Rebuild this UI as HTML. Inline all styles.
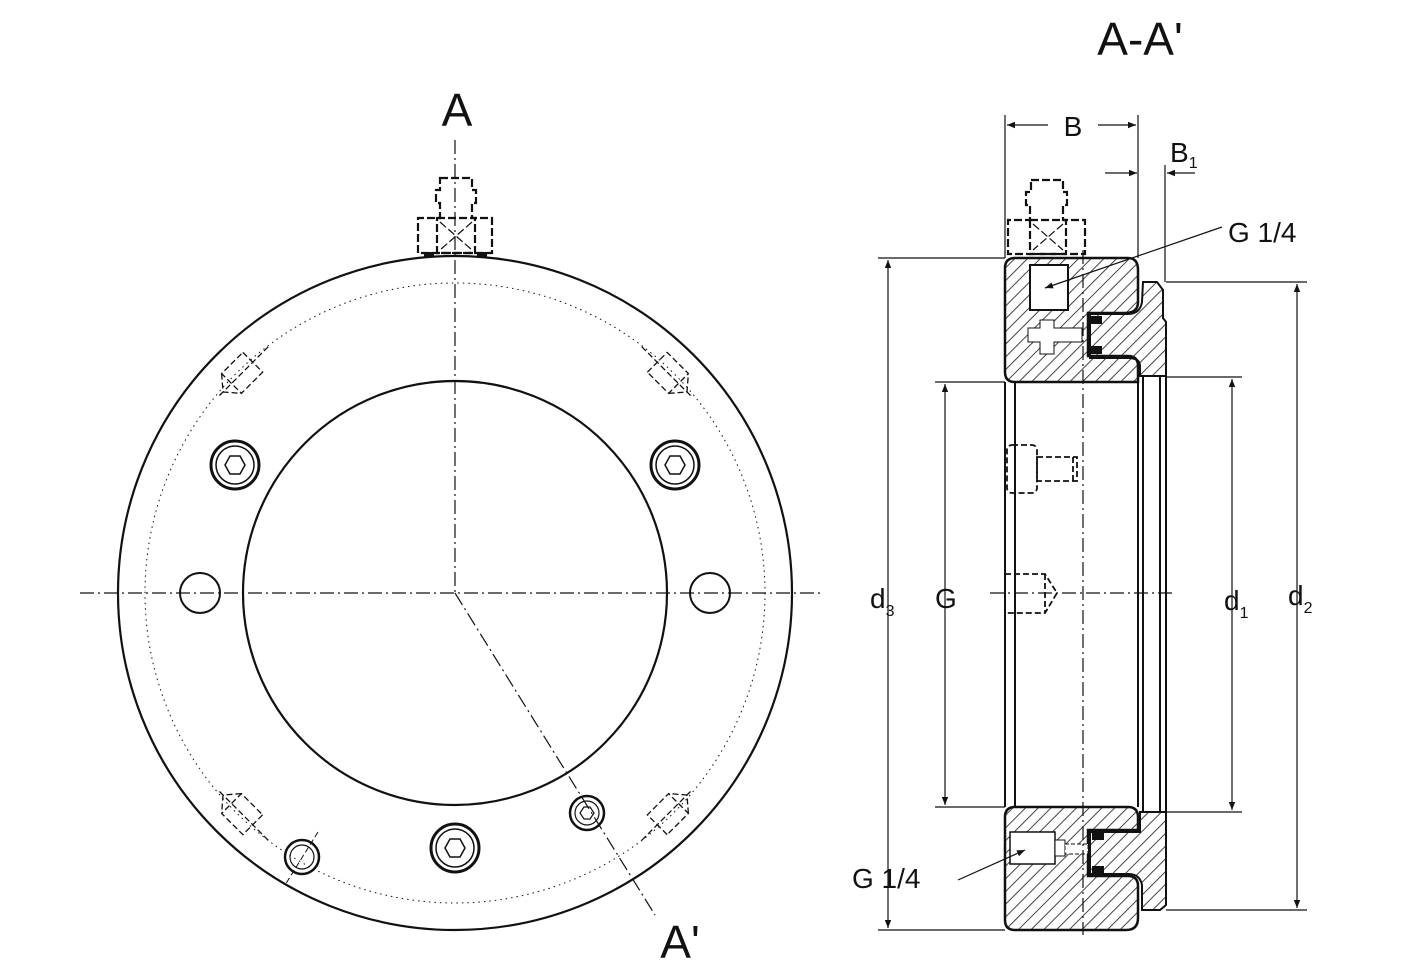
<!DOCTYPE html>
<html><head><meta charset="utf-8"><style>
html,body{margin:0;padding:0;background:#fff;width:1420px;height:972px;overflow:hidden}
svg{display:block}
text{font-family:"Liberation Sans",sans-serif;fill:#111}
</style></head><body>
<svg width="1420" height="972" viewBox="0 0 1420 972" xmlns="http://www.w3.org/2000/svg">
<defs>
<pattern id="h" patternUnits="userSpaceOnUse" width="9" height="9" patternTransform="rotate(45)">
<line x1="0" y1="0" x2="0" y2="9" stroke="#222" stroke-width="1.7"/>
</pattern>
<marker id="ar" viewBox="0 0 10 10" refX="10" refY="5" markerWidth="12" markerHeight="8" orient="auto-start-reverse" markerUnits="userSpaceOnUse"><path d="M0,1 L10,5 L0,9 z" fill="#111"/></marker>
</defs>
<g fill="none" stroke="#111">
<!-- LEFT VIEW -->
<circle cx="455" cy="593" r="337" stroke-width="2.2"/>
<circle cx="455" cy="593" r="212" stroke-width="2.2"/>
<circle cx="455" cy="593" r="310" stroke-width="1" stroke-dasharray="1.5 4"/>
<line x1="80" y1="593" x2="820" y2="593" stroke-width="1.2" stroke-dasharray="14 4 2 4"/>
<line x1="455" y1="140" x2="455" y2="593" stroke-width="1.2" stroke-dasharray="14 4 2 4"/>
<line x1="455" y1="593" x2="655" y2="915" stroke-width="1.2" stroke-dasharray="14 4 2 4"/>
<!-- holes -->
<circle cx="235" cy="465" r="24" stroke-width="3"/><circle cx="235" cy="465" r="19" stroke-width="1.5"/>
<polygon points="245,465 240,474 230,474 225,465 230,456 240,456" stroke-width="1.5"/>
<circle cx="675" cy="465" r="24" stroke-width="3"/><circle cx="675" cy="465" r="19" stroke-width="1.5"/>
<polygon points="685,465 680,474 670,474 665,465 670,456 680,456" stroke-width="1.5"/>
<circle cx="200" cy="593" r="20" stroke-width="2"/>
<circle cx="710" cy="593" r="20" stroke-width="2"/>
<circle cx="455" cy="848" r="24" stroke-width="3"/><circle cx="455" cy="848" r="19" stroke-width="1.5"/>
<polygon points="465,848 460,857 450,857 445,848 450,839 460,839" stroke-width="1.5"/>
<circle cx="302" cy="857" r="17" stroke-width="2.5"/><circle cx="302" cy="857" r="12" stroke-width="1.2"/>
<line x1="318" y1="832" x2="285" y2="885" stroke-width="1" stroke-dasharray="6 3"/>
<circle cx="587" cy="813" r="17" stroke-width="2.5"/><circle cx="587" cy="813" r="12" stroke-width="1.2"/>
<polygon points="594,813 590,819 584,819 580,813 584,807 590,807" stroke-width="1.2"/>
<!-- tapped holes (dashed) -->
<g stroke-width="1.3" stroke-dasharray="6 3">
<g transform="translate(240,375) rotate(45)"><rect x="-14" y="-18" width="28" height="30"/><polyline points="-14,12 0,24 14,12"/><line x1="0" y1="-40" x2="0" y2="30"/></g>
<g transform="translate(670,375) rotate(-45)"><rect x="-14" y="-18" width="28" height="30"/><polyline points="-14,12 0,24 14,12"/><line x1="0" y1="-40" x2="0" y2="30"/></g>
<g transform="translate(240,812) rotate(135)"><rect x="-14" y="-18" width="28" height="30"/><polyline points="-14,12 0,24 14,12"/><line x1="0" y1="-40" x2="0" y2="30"/></g>
<g transform="translate(670,812) rotate(-135)"><rect x="-14" y="-18" width="28" height="30"/><polyline points="-14,12 0,24 14,12"/><line x1="0" y1="-40" x2="0" y2="30"/></g>
</g>
<!-- left fitting -->
<g stroke-width="2.2" stroke-dasharray="8 3">
<path d="M440,178 H472 V190 H476 V203 H472 V218 H492 V253 H418 V218 H440 V203 H436 V190 H440 Z"/>
<rect x="437" y="218" width="38" height="35"/>
<line x1="440" y1="222" x2="472" y2="250" stroke-width="1.2"/><line x1="472" y1="222" x2="440" y2="250" stroke-width="1.2"/>
</g>
<rect x="424" y="252" width="10" height="5" fill="#111" stroke="none"/><rect x="477" y="252" width="10" height="5" fill="#111" stroke="none"/>

<!-- RIGHT VIEW SECTION -->
<path d="M1015,258 H1128 Q1138,258 1138,270 V302 Q1138,313 1125,313 H1088 V356 H1128 Q1138,356 1138,366 V382 H1015 Q1005,382 1005,372 V268 Q1005,258 1015,258 Z" fill="url(#h)" stroke-width="2.5"/>
<path d="M1143,282 H1157 L1163,290 V318 L1166,322 V376 H1140 V366 Q1140,358 1128,358 H1090 V314 H1128 Q1140,314 1142,302 Z" fill="url(#h)" stroke-width="2"/>
<rect x="1030" y="265" width="38" height="45" fill="#fff" stroke-width="2"/>
<path d="M1040,320 h14 v8 h28 v14 h-28 v12 h-14 v-12 h-12 v-14 h12 z" fill="#fff" stroke-width="1"/>
<rect x="1090" y="316" width="12" height="8" fill="#111" stroke="none"/><rect x="1090" y="346" width="12" height="8" fill="#111" stroke="none"/>
<path d="M1015,807 H1128 Q1138,807 1138,817 V830 H1088 V876 H1128 Q1138,876 1138,886 V918 Q1138,930 1126,930 H1015 Q1005,930 1005,920 V817 Q1005,807 1015,807 Z" fill="url(#h)" stroke-width="2.5"/>
<path d="M1090,832 H1140 V812 H1166 V905 L1160,910 H1142 V885 Q1140,874 1128,874 H1090 Z" fill="url(#h)" stroke-width="2"/>
<rect x="1010" y="832" width="45" height="32" fill="#fff" stroke-width="1.5"/>
<rect x="1055" y="840" width="10" height="16" fill="#fff" stroke-width="1"/>
<rect x="1065" y="844" width="23" height="10" fill="#fff" stroke-width="1" stroke-dasharray="4 2"/>
<rect x="1092" y="832" width="12" height="8" fill="#111" stroke="none"/><rect x="1092" y="866" width="12" height="8" fill="#111" stroke="none"/>
<g stroke-width="2">
<line x1="1005" y1="382" x2="1005" y2="807"/><line x1="1015" y1="382" x2="1015" y2="807"/>
<line x1="1138" y1="382" x2="1138" y2="807"/><line x1="1143" y1="376" x2="1143" y2="812"/>
<line x1="1160" y1="376" x2="1160" y2="812"/><line x1="1166" y1="376" x2="1166" y2="812"/>
</g>
<line x1="1083" y1="250" x2="1083" y2="935" stroke-width="1.2" stroke-dasharray="14 4 2 4"/>
<line x1="990" y1="593" x2="1175" y2="593" stroke-width="1.2" stroke-dasharray="14 4 2 4"/>
<g stroke-width="1.8" stroke-dasharray="6 3">
<rect x="1007" y="445" width="30" height="48" rx="5"/><rect x="1037" y="457" width="40" height="24"/><line x1="1073" y1="457" x2="1073" y2="481"/>
<path d="M1005,574 H1045 L1057,593 L1045,613 H1005"/><line x1="1045" y1="574" x2="1045" y2="613"/>
</g>
<g stroke-width="2.2" stroke-dasharray="8 3">
<path d="M1031,180 H1063 V192 H1067 V205 H1063 V220 H1085 V254 H1008 V220 H1030 V205 H1026 V192 H1031 Z"/>
<rect x="1030" y="220" width="36" height="34"/>
<line x1="1033" y1="224" x2="1063" y2="250" stroke-width="1.2"/><line x1="1063" y1="224" x2="1033" y2="250" stroke-width="1.2"/>
</g>
<g stroke-width="1.2">
<line x1="878" y1="258" x2="1005" y2="258"/><line x1="878" y1="930" x2="1005" y2="930"/>
<line x1="888" y1="260" x2="888" y2="928" marker-start="url(#ar)" marker-end="url(#ar)"/>
<line x1="935" y1="382" x2="1005" y2="382"/><line x1="935" y1="807" x2="1005" y2="807"/>
<line x1="945" y1="384" x2="945" y2="805" marker-start="url(#ar)" marker-end="url(#ar)"/>
<line x1="1166" y1="377" x2="1242" y2="377"/><line x1="1166" y1="812" x2="1242" y2="812"/>
<line x1="1232" y1="379" x2="1232" y2="810" marker-start="url(#ar)" marker-end="url(#ar)"/>
<line x1="1166" y1="282" x2="1307" y2="282"/><line x1="1166" y1="910" x2="1307" y2="910"/>
<line x1="1297" y1="284" x2="1297" y2="908" marker-start="url(#ar)" marker-end="url(#ar)"/>
<line x1="1005" y1="115" x2="1005" y2="258"/><line x1="1138" y1="115" x2="1138" y2="258"/>
<line x1="1007" y1="125" x2="1048" y2="125" marker-start="url(#ar)"/><line x1="1098" y1="125" x2="1136" y2="125" marker-end="url(#ar)"/>
<line x1="1165" y1="165" x2="1165" y2="282"/>
<line x1="1105" y1="173" x2="1137" y2="173" marker-end="url(#ar)"/><line x1="1195" y1="173" x2="1167" y2="173" marker-end="url(#ar)"/>
<line x1="1222" y1="227" x2="1045" y2="288" marker-end="url(#ar)"/>
<line x1="958" y1="880" x2="1025" y2="850" marker-end="url(#ar)"/>
</g>
</g>
<text x="457" y="126" font-size="46" text-anchor="middle">A</text>
<text x="680" y="958" font-size="46" text-anchor="middle">A'</text>
<text x="1140" y="55" font-size="46" text-anchor="middle">A-A'</text>
<text x="1073" y="136" font-size="28" text-anchor="middle">B</text>
<text x="1170" y="162" font-size="28">B<tspan font-size="16" dy="6">1</tspan></text>
<text x="1228" y="242" font-size="28">G 1/4</text>
<text x="852" y="888" font-size="28">G 1/4</text>
<text x="870" y="608" font-size="28">d<tspan font-size="16" dy="8">3</tspan></text>
<text x="935" y="608" font-size="28">G</text>
<text x="1224" y="610" font-size="28">d<tspan font-size="16" dy="8">1</tspan></text>
<text x="1288" y="605" font-size="28">d<tspan font-size="16" dy="8">2</tspan></text>
</svg>
</body></html>
